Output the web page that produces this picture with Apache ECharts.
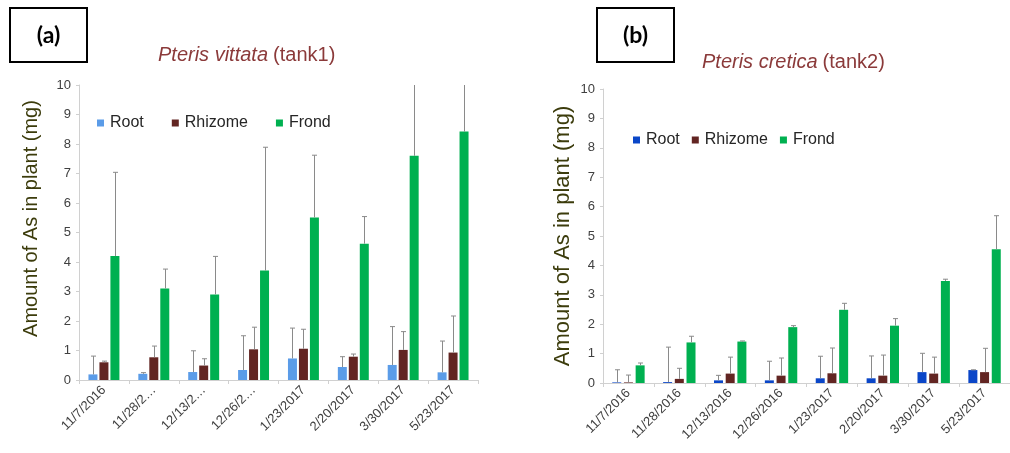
<!DOCTYPE html>
<html>
<head>
<meta charset="utf-8">
<script src="https://cdn.jsdelivr.net/npm/echarts@6/dist/echarts.min.js"></script>
<style>
  html, body { margin: 0; padding: 0; background: #fff; overflow: hidden; }
  #chart { width: 1010px; height: 453px; }
</style>
</head>
<body>
<div id="chart"></div>
<script>
// Sampling dates
const dates = ['11/7/2016', '11/28/2016', '12/13/2016', '12/26/2016', '1/23/2017', '2/20/2017', '3/30/2017', '5/23/2017'];
const yTicks = [0, 1, 2, 3, 4, 5, 6, 7, 8, 9, 10];

// (a) Pteris vittata, tank 1 — mean As (mg) and standard deviation
const vittataRoot    = [0.19, 0.21, 0.27, 0.34, 0.73, 0.44, 0.51, 0.26];
const vittataRootSd  = [0.62, 0.04, 0.72, 1.16, 1.03, 0.35, 1.30, 1.06];
const vittataRhiz    = [0.60, 0.77, 0.49, 1.04, 1.06, 0.79, 1.02, 0.93];
const vittataRhizSd  = [0.04, 0.38, 0.23, 0.75, 0.66, 0.09, 0.62, 1.24];
const vittataFrond   = [4.20, 3.10, 2.90, 3.71, 5.51, 4.62, 7.60, 8.42];
const vittataFrondSd = [2.84, 0.66, 1.29, 4.18, 2.11, 0.92, 3.20, 2.90];

// (b) Pteris cretica, tank 2 — mean As (mg) and standard deviation
const creticaRoot    = [0.02, 0.03, 0.09, 0.09, 0.16, 0.16, 0.37, 0.44];
const creticaRootSd  = [0.43, 1.19, 0.17, 0.65, 0.75, 0.76, 0.64, 0.01];
const creticaRhiz    = [0.02, 0.14, 0.32, 0.25, 0.33, 0.25, 0.32, 0.37];
const creticaRhizSd  = [0.25, 0.36, 0.56, 0.60, 0.86, 0.70, 0.56, 0.81];
const creticaFrond   = [0.60, 1.38, 1.41, 1.90, 2.49, 1.95, 3.47, 4.55];
const creticaFrondSd = [0.08, 0.21, 0.02, 0.05, 0.22, 0.24, 0.06, 1.14];

const FONT = '"Liberation Sans", Arial, sans-serif';
const C = {
  rootA: '#5b9ce8',
  rootB: '#0a46c8',
  rhiz: '#622522',
  frond: '#00b050',
  err: '#8a8a8a',
  axis: '#d0d0d0',
  tick: '#404040',
  yName: '#3c3c0c',
  title: '#8b3a3a'
};

const chart = echarts.init(document.getElementById('chart'), null, { renderer: 'canvas' });

// bar width and distance between bar centres inside a date group
const BAR_W = 9;
const panels = [
  { step: 11, gap: '22%' },
  { step: 11.7, gap: '30%' }
];

function barSeries(name, idx, values, color, gap) {
  return {
    name: name, type: 'bar', xAxisIndex: idx, yAxisIndex: idx,
    data: values, barWidth: BAR_W, barGap: gap, barCategoryGap: '40%',
    itemStyle: { color: color }, silent: true, z: 2
  };
}

// upper-only error bars with a short cap, offset to sit over the matching bar
function errSeries(idx, values, sds, slot) {
  const step = panels[idx].step;
  return {
    type: 'custom', xAxisIndex: idx, yAxisIndex: idx, silent: true, z: 3,
    clip: true,
    data: values.map((v, i) => [i, v, v + sds[i]]),
    renderItem: function (params, api) {
      const base = api.coord([api.value(0), api.value(1)]);
      const top = api.coord([api.value(0), api.value(2)]);
      const x = Math.round(base[0] + (slot - 1) * step) + 0.5;
      const style = { stroke: C.err, lineWidth: 1 };
      return {
        type: 'group',
        children: [
          { type: 'line', shape: { x1: x, y1: base[1], x2: x, y2: top[1] }, style: style },
          { type: 'line', shape: { x1: x - 2.5, y1: top[1], x2: x + 2.5, y2: top[1] }, style: style }
        ]
      };
    }
  };
}

function xAxis(idx, truncate) {
  return {
    type: 'category', gridIndex: idx, data: dates,
    axisLine: { lineStyle: { color: C.axis, width: 1 } },
    axisTick: { show: true, length: 4, lineStyle: { color: C.axis } },
    axisLabel: {
      rotate: 45, margin: 8, color: C.tick, fontSize: 13, fontFamily: FONT, interval: 0,
      formatter: function (v) { return truncate && v.length > 9 ? v.slice(0, 7) + '\u2026' : v; }
    }
  };
}

function yAxis(idx, gap, size, shift) {
  return {
    type: 'value', gridIndex: idx, min: yTicks[0], max: yTicks[yTicks.length - 1], interval: 1,
    name: 'Amount of As in plant (mg)', nameLocation: 'middle', nameRotate: 90, nameGap: gap,
    nameTextStyle: { color: C.yName, fontSize: size, fontFamily: FONT, padding: [0, 0, 0, shift] },
    axisLine: { show: true, lineStyle: { color: C.axis } },
    axisTick: { show: true, length: 3, lineStyle: { color: C.axis } },
    splitLine: { show: false },
    axisLabel: { color: C.tick, fontSize: 13, fontFamily: FONT, margin: 8 }
  };
}

function legend(left, top, gap, rootColor) {
  return {
    left: left, top: top, itemWidth: 7, itemHeight: 7, itemGap: gap, icon: 'rect',
    selectedMode: false,
    textStyle: { color: '#262626', fontSize: 16, fontFamily: FONT, padding: [0, 0, 0, 1] },
    data: [
      { name: 'Root', itemStyle: { color: rootColor } },
      { name: 'Rhizome', itemStyle: { color: C.rhiz } },
      { name: 'Frond', itemStyle: { color: C.frond } }
    ]
  };
}

function titleRich(species, tank, left, top) {
  return {
    left: left, top: top,
    text: '{i|' + species + '} {n|(' + tank + ')}',
    textStyle: {
      fontWeight: 'normal',
      rich: {
        i: { fontStyle: 'italic', fontWeight: 'normal', color: C.title, fontSize: 20, fontFamily: FONT },
        n: { fontWeight: 'normal', color: C.title, fontSize: 20, fontFamily: FONT }
      }
    }
  };
}

function panelLabel(text, x, y) {
  return {
    type: 'group', left: x, top: y,
    children: [
      { type: 'rect', shape: { x: 0, y: 0, width: 77, height: 54 }, style: { fill: '#fff', stroke: '#000', lineWidth: 2 } },
      { type: 'text', x: 38.5, y: 28, style: { text: text, fill: '#000', font: 'bold 23px Lato, "Liberation Sans", sans-serif', textAlign: 'center', textVerticalAlign: 'middle' } }
    ]
  };
}

chart.setOption({
  animation: false,
  backgroundColor: '#fff',
  title: [
    titleRich('Pteris vittata', 'tank1', 153, 40),
    titleRich('Pteris cretica', 'tank2', 697, 47)
  ],
  legend: [
    legend(92, 110, 28, C.rootA),
    legend(628, 127, 12, C.rootB)
  ],
  graphic: [
    panelLabel('(a)', 9, 7),
    panelLabel('(b)', 596, 7)
  ],
  grid: [
    { left: 79, right: 532, top: 85, bottom: 73 },
    { left: 603, right: -9, top: 89, bottom: 70 }
  ],
  xAxis: [xAxis(0, true), xAxis(1, false)],
  yAxis: [yAxis(0, 38, 20, 28), yAxis(1, 29, 22, 0)],
  series: [
    barSeries('Root', 0, vittataRoot, C.rootA, panels[0].gap),
    barSeries('Rhizome', 0, vittataRhiz, C.rhiz, panels[0].gap),
    barSeries('Frond', 0, vittataFrond, C.frond, panels[0].gap),
    errSeries(0, vittataRoot, vittataRootSd, 0),
    errSeries(0, vittataRhiz, vittataRhizSd, 1),
    errSeries(0, vittataFrond, vittataFrondSd, 2),
    barSeries('Root', 1, creticaRoot, C.rootB, panels[1].gap),
    barSeries('Rhizome', 1, creticaRhiz, C.rhiz, panels[1].gap),
    barSeries('Frond', 1, creticaFrond, C.frond, panels[1].gap),
    errSeries(1, creticaRoot, creticaRootSd, 0),
    errSeries(1, creticaRhiz, creticaRhizSd, 1),
    errSeries(1, creticaFrond, creticaFrondSd, 2)
  ]
});
</script>
</body>
</html>
